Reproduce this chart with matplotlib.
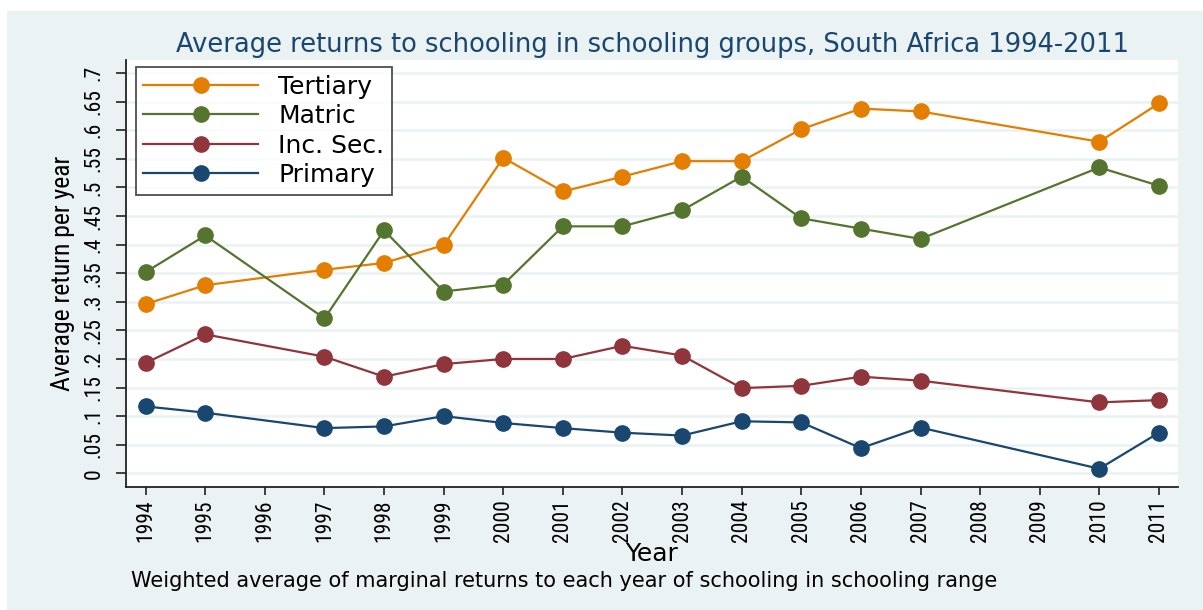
import matplotlib
matplotlib.use("Agg")
import matplotlib.pyplot as plt
from matplotlib import font_manager
from matplotlib.patches import Rectangle

# data
years = [1994, 1995, 1997, 1998, 1999, 2000, 2001, 2002, 2003, 2004, 2005, 2006, 2007, 2010, 2011]
tertiary = [0.296, 0.329, 0.356, 0.368, 0.399, 0.552, 0.493, 0.519, 0.546, 0.546, 0.602, 0.638, 0.633, 0.580, 0.647]
matric = [0.352, 0.416, 0.271, 0.425, 0.318, 0.330, 0.432, 0.432, 0.460, 0.519, 0.446, 0.428, 0.410, 0.535, 0.503]
inc_sec = [0.193, 0.243, 0.204, 0.169, 0.191, 0.200, 0.200, 0.223, 0.206, 0.149, 0.153, 0.169, 0.162, 0.124, 0.128]
primary = [0.117, 0.106, 0.079, 0.082, 0.100, 0.088, 0.079, 0.071, 0.066, 0.091, 0.089, 0.044, 0.080, 0.008, 0.071]

xticks = list(range(1994, 2012))
yticks = [0, 0.05, 0.1, 0.15, 0.2, 0.25, 0.3, 0.35, 0.4, 0.45, 0.5, 0.55, 0.6, 0.65, 0.7]
ytick_labels = ["0", ".05", ".1", ".15", ".2", ".25", ".3", ".35", ".4", ".45", ".5", ".55", ".6", ".65", ".7"]

bg = "#EAF2F3"

# narrow font for the rotated texts, if one is there
names = set(f.name for f in font_manager.fontManager.ttflist)
narrow_name = None
for n in ["Liberation Sans Narrow", "DejaVu Sans Condensed", "Roboto Condensed", "Open Sans Condensed"]:
    if n in names:
        narrow_name = n
        break
if narrow_name is None:
    narrow = ["Liberation Sans", "DejaVu Sans"]
    tick_fs, ylab_fs = 12.5, 15.5
else:
    narrow = [narrow_name, "DejaVu Sans"]
    tick_fs, ylab_fs = 15.5, 18.5

fig = plt.figure(figsize=(12.03, 6.10), dpi=100)
fig.patch.set_facecolor("white")
# stata style light background (small white margin top and left)
fig.patches.append(Rectangle((7 / 1203, 0), 1 - 7 / 1203, 1 - 11 / 610,
                             transform=fig.transFigure, facecolor=bg, edgecolor="none", zorder=-1))

ax = fig.add_axes([126 / 1203, 1 - 487 / 610, 1052 / 1203, 427 / 610])
ax.set_zorder(1)
ax.set_facecolor("white")

series = [
    (tertiary, "Tertiary", "#E37E00"),
    (matric, "Matric", "#55752F"),
    (inc_sec, "Inc. Sec.", "#90353B"),
    (primary, "Primary", "#1A476F"),
]
for vals, lab, col in series:
    ax.plot(years, vals, color=col, lw=1.6, marker="o", ms=11, mec=col, mfc=col, label=lab, zorder=3)

ax.set_xlim(1993.67, 2011.32)
ax.set_ylim(-0.024, 0.723)
ax.set_xticks(xticks)
ax.set_xticklabels([str(y) for y in xticks], rotation=90, family=narrow, fontsize=tick_fs)
ax.set_yticks(yticks)
ax.set_yticklabels(ytick_labels, rotation=90, va="center", family=narrow, fontsize=tick_fs)
ax.tick_params(axis="y", length=7.5, width=1.2, pad=8, color="#222222")
ax.tick_params(axis="x", length=6, width=1.2, pad=3, color="#222222")

ax.yaxis.grid(True, color=bg, lw=1.8)
ax.set_axisbelow(True)
for s in ["top", "right"]:
    ax.spines[s].set_visible(False)
for s in ["left", "bottom"]:
    ax.spines[s].set_color("#222222")
    ax.spines[s].set_linewidth(1.3)

ax.set_ylabel("Average return per year", family=narrow, fontsize=ylab_fs, labelpad=6)

leg = ax.legend(loc="upper left", bbox_to_anchor=(0.0095, 0.9836), borderaxespad=0,
                fancybox=False, frameon=True, edgecolor="#222222", fontsize=18,
                handlelength=4.6, handletextpad=0.8, labelspacing=0.22, borderpad=0.3)
leg.get_frame().set_linewidth(1.3)

fig.text(652 / 1203, 1 - 45 / 610, "Average returns to schooling in schooling groups, South Africa 1994-2011",
         ha="center", va="center", fontsize=18.5, color="#1A476F")
fig.text(652 / 1203, 1 - 554 / 610, "Year", ha="center", va="center", fontsize=18)
fig.text(131 / 1203, 1 - 581 / 610, "Weighted average of marginal returns to each year of schooling in schooling range",
         ha="left", va="center", fontsize=15)

fig.savefig("out.png", dpi=100)
